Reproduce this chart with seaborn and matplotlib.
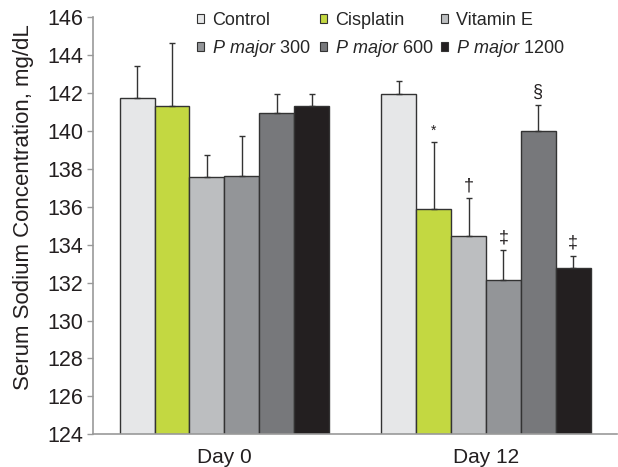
import matplotlib
matplotlib.use("Agg")
import matplotlib.pyplot as plt
import seaborn as sns
import pandas as pd
import numpy as np
from matplotlib.patches import Patch

days = ["Day 0", "Day 12"]
groups = ["Control", "Cisplatin", "Vitamin E", "P major 300", "P major 600", "P major 1200"]
legend_labels = ["Control", "Cisplatin", "Vitamin E",
                 r"$\it{P}$ $\it{major}$ 300", r"$\it{P}$ $\it{major}$ 600",
                 r"$\it{P}$ $\it{major}$ 1200"]
colors = ["#e6e7e8", "#c3d841", "#bcbec0", "#939598", "#77787b", "#231f20"]

mean_day0 = [141.75, 141.3, 137.55, 137.65, 140.97, 141.3]
sd_day0 = [1.7, 3.32, 1.2, 2.1, 1.0, 0.67]
mean_day12 = [141.97, 135.9, 134.45, 132.12, 139.98, 132.78]
sd_day12 = [0.68, 3.5, 2.0, 1.58, 1.39, 0.64]
marks_day12 = ["", "*", "\u2020", "\u2021", "\u00a7", "\u2021"]

sns.set_style("white")
plt.rcParams["font.family"] = ["Liberation Sans", "DejaVu Sans"]
plt.rcParams["mathtext.fontset"] = "custom"
plt.rcParams["mathtext.it"] = "Liberation Sans:italic"
plt.rcParams["mathtext.rm"] = "Liberation Sans"

rows = []
for d, means, sds in [(days[0], mean_day0, sd_day0), (days[1], mean_day12, sd_day12)]:
    for g, m, s in zip(groups, means, sds):
        rows.append({"day": d, "group": g, "value": m, "sd": s})
df = pd.DataFrame(rows)

fig = plt.figure(figsize=(6.18, 4.67), dpi=100)
ax = fig.add_axes([0.1505, 0.070, 0.8475, 0.893])

sns.barplot(data=df, x="day", y="value", hue="group", order=days, hue_order=groups,
            palette=colors, saturation=1, width=0.8, errorbar=None, edgecolor="#333333",
            linewidth=1.0, legend=False, ax=ax)

ax.set_ylim(124, 146)
bar_containers = list(ax.containers)
for gi, cont in enumerate(bar_containers):
    sub = df[df["group"] == groups[gi]].set_index("day").loc[days]
    xs = [p.get_x() + p.get_width() / 2 for p in cont]
    ax.errorbar(xs, sub["value"].values,
                yerr=[np.zeros(len(xs)), sub["sd"].values],
                fmt="none", ecolor="#333333", elinewidth=1.0, capsize=2.5, capthick=1.0)
    mk = marks_day12[gi]
    if mk:
        top = sub["value"].values[1] + sub["sd"].values[1]
        fs = 10 if mk == "*" else 13
        ax.annotate(mk, (xs[1], top), xytext=(0, 3), textcoords="offset points",
                    ha="center", va="bottom", fontsize=fs, color="#231f20")

ax.set_xlim(-0.502, 1.483)
ax.set_yticks(np.arange(124, 147, 2))
ax.set_xticks([0, 1])
ax.set_xticks([-0.5, 0.5, 1.5], minor=True)
ax.tick_params(axis="x", which="major", length=0, labelsize=15, pad=10, colors="#231f20")
ax.tick_params(axis="x", which="minor", length=4, width=1, color="#999999", direction="out")
ax.tick_params(axis="y", which="major", length=4, width=1, color="#999999", direction="out",
               labelsize=15.5, labelcolor="#231f20", left=True, pad=3)
ax.set_xlabel("")
ax.set_ylabel("Serum Sodium Concentration, mg/dL", fontsize=16, color="#231f20")
ax.yaxis.set_label_coords(-0.112, 0.544)
for s in ["top", "right"]:
    ax.spines[s].set_visible(False)
for s in ["left", "bottom"]:
    ax.spines[s].set_color("#999999")
    ax.spines[s].set_linewidth(1.2)

handles = [Patch(facecolor=c, edgecolor="#333333", linewidth=0.8) for c in colors]
col_x = [197, 320, 441]
for ci in range(3):
    idx = [ci, ci + 3]
    fig.legend([handles[i] for i in idx], [legend_labels[i] for i in idx], ncol=1,
               loc="upper left", bbox_to_anchor=(col_x[ci] / 618, 1 - 12 / 467),
               frameon=False, fontsize=13, handlelength=0.4, handleheight=0.4,
               handletextpad=0.45, labelspacing=0.5,
               borderpad=0, borderaxespad=0)

fig.savefig("out.png", dpi=100)
